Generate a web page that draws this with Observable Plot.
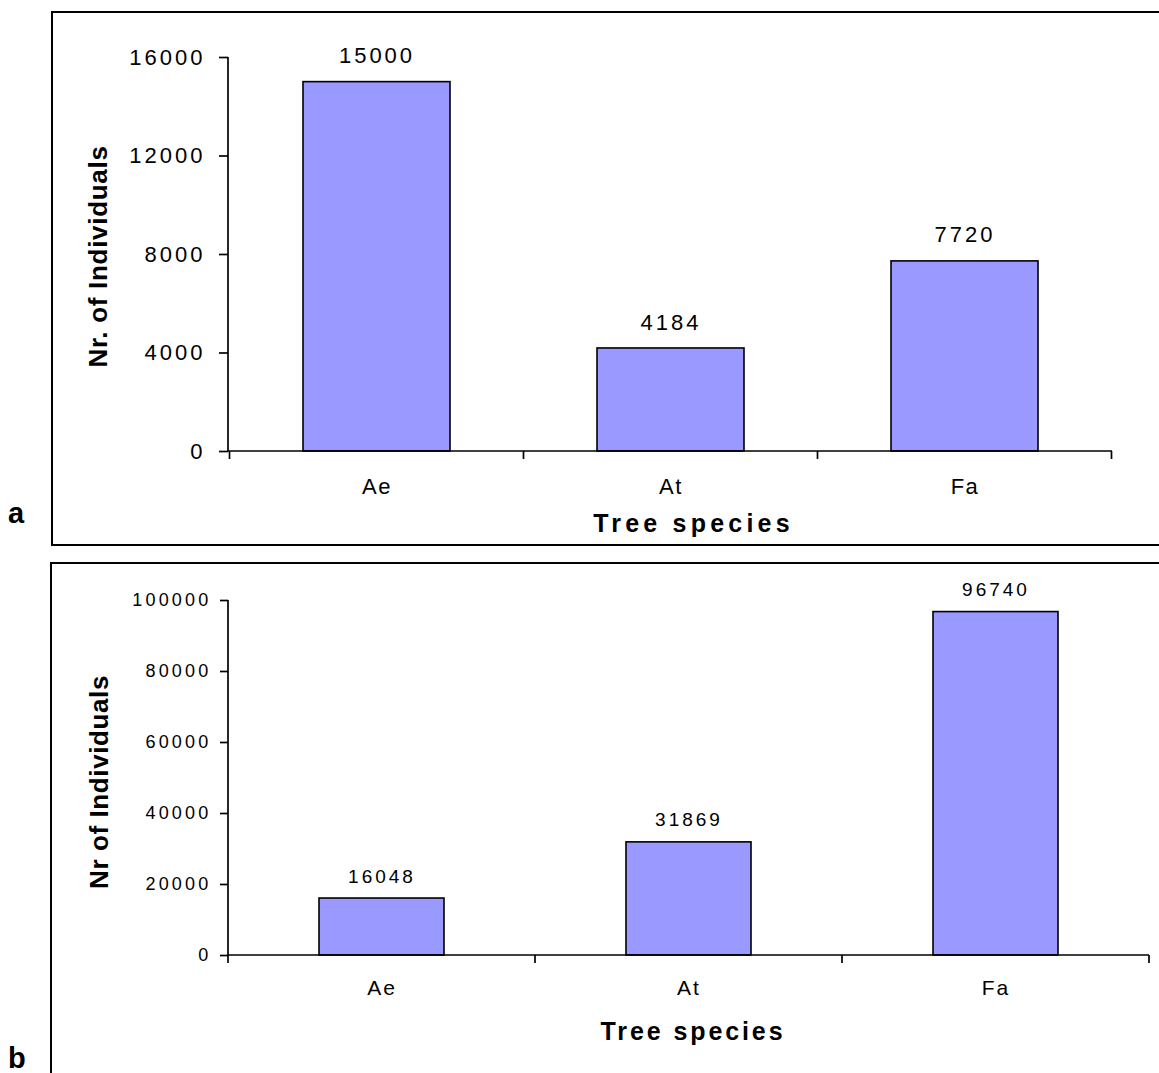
<!DOCTYPE html>
<html>
<head>
<meta charset="utf-8">
<script src="https://cdn.jsdelivr.net/npm/d3@7"></script>
<script src="https://cdn.jsdelivr.net/npm/@observablehq/plot@0.6"></script>
<style>
  html, body { margin: 0; padding: 0; background: #fff; overflow: hidden; }
  body { width: 1159px; height: 1073px; position: relative; font-family: "Liberation Sans", Arial, sans-serif; color: #000; }
  .panel { position: absolute; left: 0; }
  .frame { position: absolute; box-sizing: border-box; border: 2px solid #000; pointer-events: none; }
  .tag { position: absolute; font-weight: bold; font-size: 29px; line-height: 29px; }
  #pa g[aria-label="y-axis tick label"] { font-size: 22px; letter-spacing: 3px; }
  #pa g[aria-label="x-axis tick label"] { font-size: 22px; letter-spacing: 1.5px; }
  #pa text[aria-label="bar-label"] { letter-spacing: 3px; }
  #pa text[aria-label="x-title"] { letter-spacing: 4.2px; }
  #pa text[aria-label="y-title"] { letter-spacing: 0.7px; }
  #pb g[aria-label="y-axis tick label"] { font-size: 18px; letter-spacing: 3.2px; }
  #pb g[aria-label="x-axis tick label"] { font-size: 21px; letter-spacing: 2px; }
  #pb text[aria-label="bar-label"] { letter-spacing: 3px; }
  #pb text[aria-label="x-title"] { letter-spacing: 2.9px; }
  #pb text[aria-label="y-title"] { letter-spacing: 0.6px; }
</style>
</head>
<body>
<div id="pa" class="panel" style="top:0px"></div>
<div id="pb" class="panel" style="top:545px"></div>
<div class="frame" style="left:51px; top:11px; width:1200px; height:535px"></div>
<div class="frame" style="left:50px; top:562px; width:1200px; height:600px"></div>
<div class="tag" id="tagA" style="left:8px; top:499px"></div>
<div class="tag" id="tagB" style="left:8px; top:1044px"></div>
<script>
// ---- data ----
const species = ["Ae", "At", "Fa"];
const countsA = [15000, 4184, 7720];
const countsB = [16048, 31869, 96740];
const ticksA = [0, 4000, 8000, 12000, 16000];
const ticksB = [0, 20000, 40000, 60000, 80000, 100000];
const yTitleA = "Nr. of Individuals";
const yTitleB = "Nr of Individuals";
const xTitle = "Tree species";
const panelTags = ["a", "b"];

document.getElementById("tagA").textContent = panelTags[0];
document.getElementById("tagB").textContent = panelTags[1];

function axisLines(yMax, tickLen) {
  return (index, scales, values, dims) => {
    const x = scales.x, y = scales.y;
    const left = dims.marginLeft, right = dims.width - dims.marginRight;
    const y0 = y(0), yTop = y(yMax);
    const g = d3.create("svg:g")
      .attr("aria-label", "axis-lines")
      .attr("stroke", "#000").attr("stroke-width", 1.7).attr("fill", "none");
    g.append("line").attr("x1", left).attr("x2", left).attr("y1", yTop).attr("y2", y0);
    g.append("line").attr("x1", left).attr("x2", right).attr("y1", y0).attr("y2", y0);
    const step = x.step ? x.step() : (right - left) / x.domain().length;
    const bw = x.bandwidth ? x.bandwidth() : step / 2;
    const bounds = x.domain().map(c => x(c) - (step - bw) / 2);
    bounds.push(bounds[bounds.length - 1] + step);
    for (const b of bounds) {
      g.append("line").attr("x1", b).attr("x2", b).attr("y1", y0).attr("y2", y0 + tickLen);
    }
    return g.node();
  };
}

function makePanel(cfg) {
  const data = species.map((s, i) => ({species: s, count: cfg.counts[i]}));
  const yMax = cfg.ticks[cfg.ticks.length - 1];
  return Plot.plot({
    width: 1159,
    height: cfg.height,
    marginTop: cfg.mt, marginRight: cfg.mr, marginBottom: cfg.mb, marginLeft: 228,
    style: {background: "transparent", fontFamily: "'Liberation Sans', Arial, sans-serif", color: "#000", overflow: "visible"},
    x: {type: "band", domain: species, paddingInner: cfg.pi, paddingOuter: cfg.pi / 2, label: null},
    y: {domain: [0, yMax], label: null},
    marks: [
      Plot.barY(data, {x: "species", y: "count", fill: "#9999FF", stroke: "#000", strokeWidth: 1.6}),
      axisLines(yMax, cfg.xTick),
      Plot.axisY({ticks: cfg.ticks, tickSize: cfg.yTick, tickPadding: cfg.yPad, tickFormat: d3.format("d"), strokeWidth: 1.7, label: null}),
      Plot.axisX({tickSize: 0, tickPadding: cfg.xPad, label: null}),
      Plot.text(data, {x: "species", y: "count", text: d => String(d.count), dy: cfg.labDy, fontSize: cfg.labFs, textAnchor: "middle", lineAnchor: "middle", fill: "#000", ariaLabel: () => "bar-label"}),
      Plot.text([cfg.yTitle], {frameAnchor: "left", text: d => d, rotate: -90, dx: cfg.ytDx, dy: cfg.ytDy, fontSize: 26, fontWeight: "bold", textAnchor: "middle", lineAnchor: "middle", fill: "#000", ariaLabel: () => "y-title"}),
      Plot.text([xTitle], {frameAnchor: "bottom", text: d => d, dx: cfg.xtDx, dy: cfg.xtDy, fontSize: 25, fontWeight: "bold", textAnchor: "middle", lineAnchor: "middle", fill: "#000", ariaLabel: () => "x-title"})
    ]
  });
}

document.getElementById("pa").append(makePanel({
  counts: countsA, ticks: ticksA, yTitle: yTitleA,
  height: 545, mt: 57, mr: 47, mb: 94, pi: 0.5,
  xTick: 8, yTick: 9, yPad: 14, xPad: 27, labDy: -26, labFs: 22,
  ytDx: -130, ytDy: 2, xtDx: 23, xtDy: 72
}));
document.getElementById("pb").append(makePanel({
  counts: countsB, ticks: ticksB, yTitle: yTitleB,
  height: 528, mt: 55, mr: 10, mb: 118, pi: 0.593,
  xTick: 8, yTick: 8, yPad: 9, xPad: 25, labDy: -22, labFs: 19,
  ytDx: -129, ytDy: 4, xtDx: 4, xtDy: 76
}));
</script>
</body>
</html>
